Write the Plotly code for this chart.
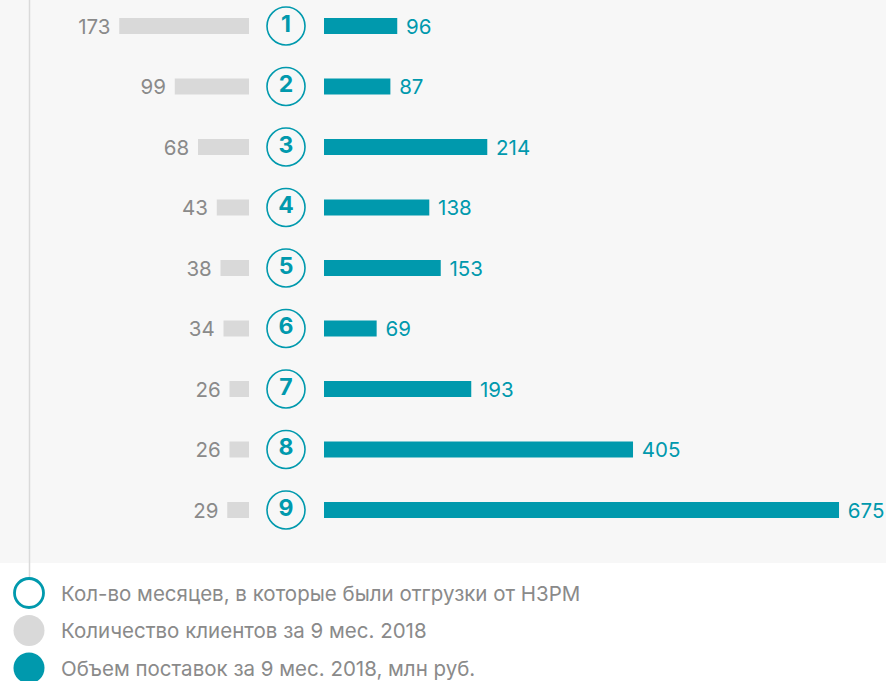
import plotly.graph_objects as go

ranks = [1, 2, 3, 4, 5, 6, 7, 8, 9]
clients = [173, 99, 68, 43, 38, 34, 26, 26, 29]
volume = [96, 87, 214, 138, 153, 69, 193, 405, 675]
legend_labels = [
    "Кол-во месяцев, в которые были отгрузки от НЗРМ",
    "Количество клиентов за 9 мес. 2018",
    "Объем поставок за 9 мес. 2018, млн руб.",
]

W, H = 886, 681
TEAL = "#0099ad"
GRAY_BAR = "#d9d9d9"
GRAY_TXT = "#8a8a8a"
BG = "#f7f7f7"
FONT = "Inter"

fig = go.Figure()

# gray bars (clients), growing leftwards
fig.add_trace(go.Bar(
    y=ranks, x=clients, orientation="h", xaxis="x2", yaxis="y",
    marker=dict(color=GRAY_BAR, line=dict(width=0)), width=0.264,
    text=[f"{v} " for v in clients], textposition="outside",
    textfont=dict(family=FONT, size=20.5, color=GRAY_TXT),
    cliponaxis=False, constraintext="none", hoverinfo="skip", showlegend=False,
))

# teal bars (volume)
fig.add_trace(go.Bar(
    y=ranks, x=volume, orientation="h", xaxis="x", yaxis="y",
    marker=dict(color=TEAL, line=dict(width=0)), width=0.264,
    text=[f" {v}" for v in volume], textposition="outside",
    textfont=dict(family=FONT, size=20.5, color=TEAL),
    cliponaxis=False, constraintext="none", hoverinfo="skip", showlegend=False,
))

# rank circles
fig.add_trace(go.Scatter(
    y=ranks, x=[0] * len(ranks), xaxis="x3", yaxis="y", mode="markers+text",
    marker=dict(size=38, color=BG, opacity=1, line=dict(color=TEAL, width=1.6)),
    text=[f"<b>{r}</b>" for r in ranks], textposition="middle center",
    textfont=dict(family=FONT, size=23, color=TEAL),
    cliponaxis=False, hoverinfo="skip", showlegend=False,
))

# legend markers
leg_idx = [0, 1, 2]
fig.add_trace(go.Scatter(
    y=leg_idx, x=[0, 0, 0], xaxis="x4", yaxis="y2", mode="markers",
    marker=dict(size=[29, 31, 31], color=["white", GRAY_BAR, TEAL], opacity=1,
                line=dict(color=[TEAL, GRAY_BAR, TEAL], width=[2.8, 0, 0])),
    cliponaxis=False, hoverinfo="skip", showlegend=False,
))

annotations = []
for i, lab in zip(leg_idx, legend_labels):
    annotations.append(dict(
        x=59 / W, xref="paper", y=i, yref="y2", text=lab, showarrow=False,
        xanchor="left", yanchor="middle",
        font=dict(family=FONT, size=20.5, color=GRAY_TXT),
    ))

row0, step = 26, 60.5
y_top = 1 - row0 / step
y_bot = 1 + (H - row0) / step
leg0, lstep = 593, 37.5
ly_top = -leg0 / lstep
ly_bot = (H - leg0) / lstep

hidden = dict(showgrid=False, zeroline=False, showticklabels=False, showline=False, fixedrange=True)

fig.update_layout(
    width=W, height=H, margin=dict(l=0, r=0, t=0, b=0),
    paper_bgcolor="white", plot_bgcolor="rgba(0,0,0,0)",
    barmode="overlay",
    xaxis=dict(domain=[324 / W, 1], range=[0, 562 / 0.763], **hidden),
    xaxis2=dict(domain=[0, 249 / W], range=[249 / 0.75, 0], anchor="y", **hidden),
    xaxis3=dict(domain=[267 / W, 305 / W], range=[-1, 1], anchor="y", **hidden),
    xaxis4=dict(domain=[13 / W, 45 / W], range=[-1, 1], anchor="y2", **hidden),
    yaxis=dict(domain=[0, 1], range=[y_bot, y_top], **hidden),
    yaxis2=dict(domain=[0, 1], range=[ly_bot, ly_top], anchor="x4", **hidden),
    shapes=[
        dict(type="rect", xref="paper", yref="paper", x0=0, x1=1,
             y0=1 - 563 / H, y1=1, fillcolor=BG, line=dict(width=0), layer="below"),
        dict(type="line", xref="paper", yref="paper", x0=29.5 / W, x1=29.5 / W,
             y0=1 - 578 / H, y1=1, line=dict(color="#dadada", width=1.5), layer="below"),
    ],
    annotations=annotations,
    font=dict(family=FONT),
)

fig.write_html("out.html")
